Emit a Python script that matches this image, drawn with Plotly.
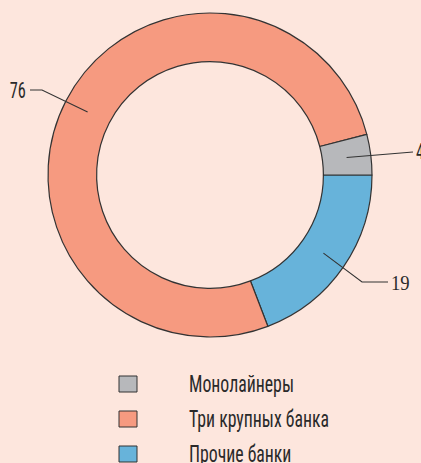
import math
import plotly.graph_objects as go

labels = ["Монолайнеры", "Три крупных банка", "Прочие банки"]
values = [4, 76, 19]
colors = ["#b7b8bb", "#f69a80", "#67b3da"]

W, H = 421, 463
bg = "#fde6dd"
sans = "Roboto Condensed, Roboto, sans-serif"
serif = "Liberation Serif, serif"
ink = "#2a2a2a"

# circle geometry in pixels
cx, cy, R = 210, 175, 162
hole = 0.70


def px(x, y):
    return x / W, 1 - y / H


fig = go.Figure()
# pie drawn clockwise from 3 o'clock in reversed order
fig.add_trace(go.Pie(
    labels=labels[::-1], values=values[::-1], hole=hole, sort=False,
    direction="clockwise", rotation=90,
    marker=dict(colors=colors[::-1], line=dict(color="#333333", width=1.2)),
    textinfo="none", hoverinfo="label+value", showlegend=False,
    domain=dict(x=[(cx - R) / W, (cx + R) / W], y=[1 - (cy + R) / H, 1 - (cy - R) / H]),
))

# leader lines from mid-slice to labels
total = sum(values)
elbows = [None, (42, 90), (362, 282)]
ends = [(413, 152), (30, 90), (388, 282)]
label_fonts = [sans, sans, serif]
start = 0
shapes = []
annotations = []
for i, v in enumerate(values):
    mid = (start + v / 2) / total * 2 * math.pi
    start += v
    r = R * (1 + hole) / 2
    x0, y0 = cx + r * math.cos(mid), cy - r * math.sin(mid)
    pts = [(x0, y0)] + ([elbows[i]] if elbows[i] else []) + [ends[i]]
    path = "M " + " L ".join(f"{px(a, b)[0]},{px(a, b)[1]}" for a, b in pts)
    shapes.append(dict(type="path", path=path, xref="paper", yref="paper",
                       line=dict(color="#333333", width=1.1)))
    ex, ey = ends[i]
    left = ex < cx
    annotations.append(dict(x=px(ex, ey)[0] + (-2 / W if left else 1 / W), y=px(ex, ey)[1],
                            xref="paper", yref="paper", text=str(v), showarrow=False,
                            xanchor="right" if left else "left", yanchor="middle",
                            align="right" if left else "left",
                            font=dict(family=label_fonts[i], size=22, color=ink)))

# manual legend
for i, lab in enumerate(labels):
    ly = 384 + 35 * i
    x0, y0 = px(119, ly - 8)
    x1, y1 = px(137, ly + 8)
    shapes.append(dict(type="rect", xref="paper", yref="paper", x0=x0, y0=y0, x1=x1, y1=y1,
                       fillcolor=colors[i], line=dict(color="#333333", width=1)))
    annotations.append(dict(x=px(187, ly)[0], y=px(187, ly)[1], xref="paper", yref="paper",
                            text=lab, showarrow=False, xanchor="left", yanchor="middle",
                            align="left", font=dict(family=sans, size=24, color=ink)))

fig.update_layout(
    width=W, height=H, margin=dict(l=0, r=0, t=0, b=0),
    paper_bgcolor=bg, plot_bgcolor=bg,
    shapes=shapes, annotations=annotations,
)

# squeeze the condensed labels horizontally, like the narrow print face
squeeze = """
document.body.style.margin = '0';
document.querySelectorAll('text.annotation-text').forEach(function (t) {
  var f = (t.style.fontFamily || '').indexOf('Serif') >= 0 ? 0.85 : 0.74;
  t.setAttribute('lengthAdjust', 'spacingAndGlyphs');
  t.setAttribute('textLength', t.getComputedTextLength() * f);
});
"""
fig.write_html("out.html", config={"displayModeBar": False}, post_script=squeeze)
